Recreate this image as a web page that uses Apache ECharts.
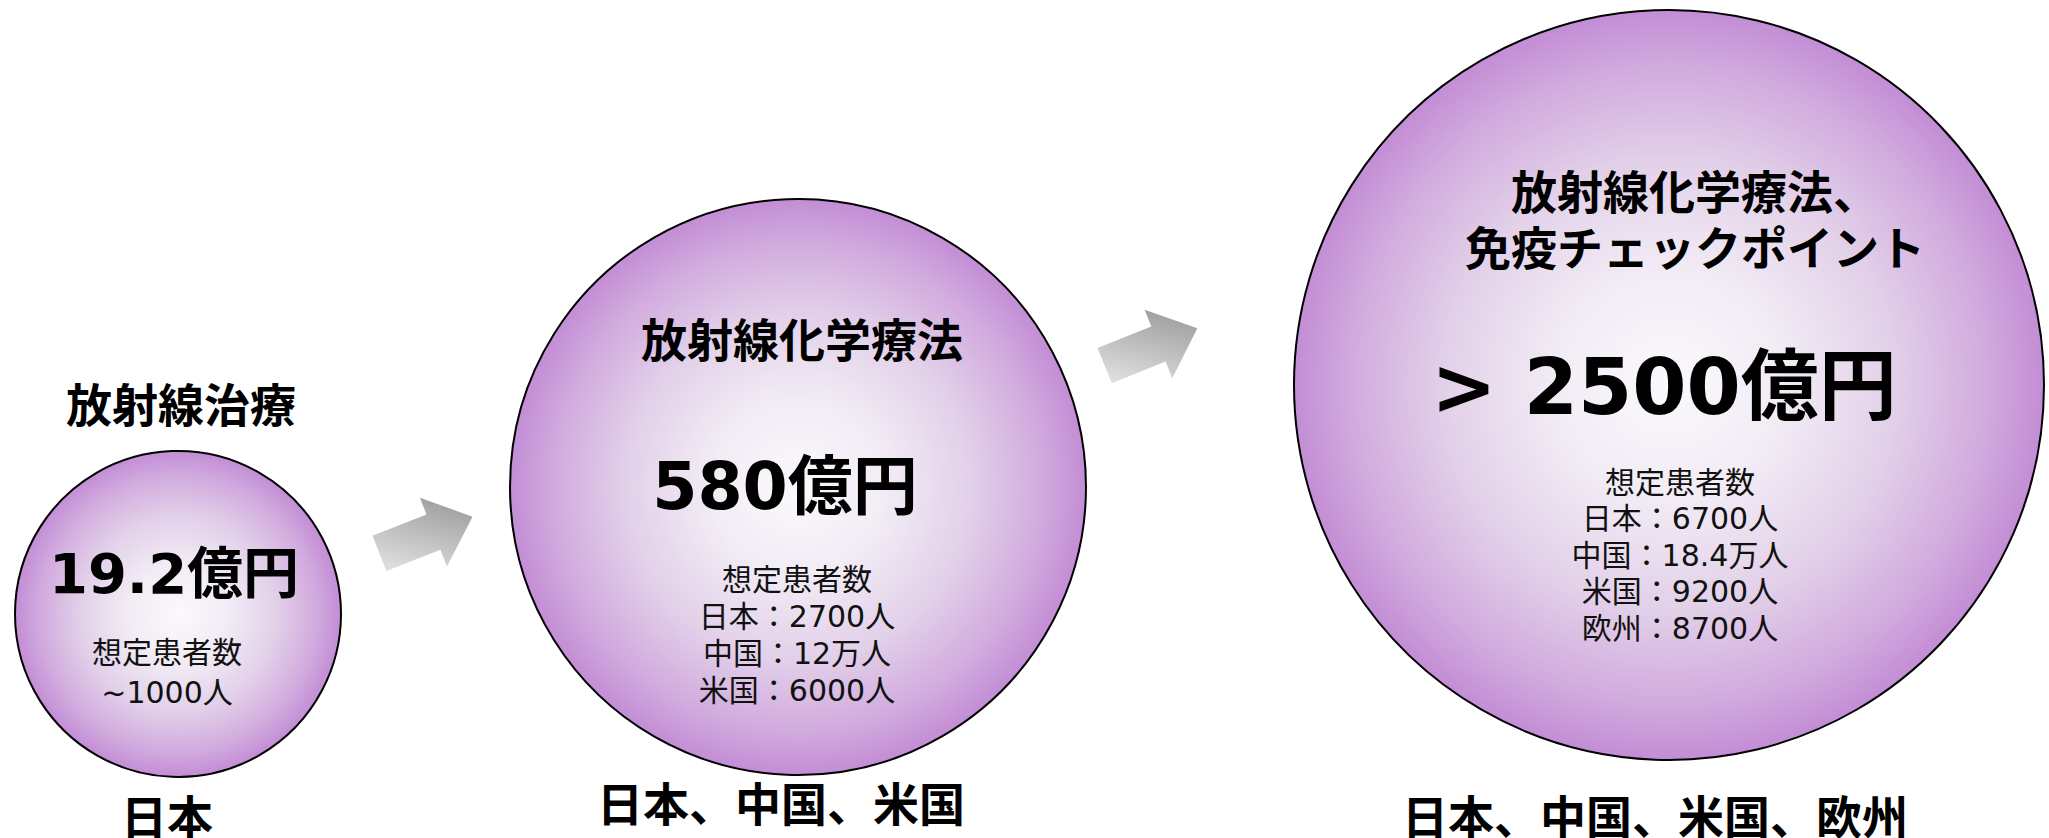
<!DOCTYPE html>
<html><head><meta charset="utf-8">
<script src="https://cdn.jsdelivr.net/npm/echarts@6/dist/echarts.min.js"></script>
<style>html,body{margin:0;padding:0;background:#fff}#c{width:2049px;height:838px}</style>
</head><body><div id="c"></div>
<script>
// ---------------- data ----------------
const stages = ['放射線治療', '放射線化学療法', '放射線化学療法、\n免疫チェックポイント'];
const marketPrefix = ['', '', '> '];
const marketValues = [19.2, 580, 2500];
const marketUnit = '億円';
const patientHeader = '想定患者数';
const patientLines = [
  ['~1000人'],
  ['日本：2700人', '中国：12万人', '米国：6000人'],
  ['日本：6700人', '中国：18.4万人', '米国：9200人', '欧州：8700人']
];
const markets = ['日本', '日本、中国、米国', '日本、中国、米国、欧州'];

// ---------------- layout (pixels) ----------------
const W = 2049, H = 838;
const LAYOUT = {
  circles: [{c: [178, 614], r: 163}, {c: [798, 487], r: 288}, {c: [1669, 385], r: 375}],
  title: [{p: [181, 402], lh: 56}, {p: [802, 337], lh: 56}, {p: [1695, 217], lh: 56}],
  value: [{p: [174, 573], size: 56}, {p: [785, 486], size: 65}, {p: [1664, 387], size: 78}],
  patients: [{p: [167, 672], lh: 40}, {p: [797, 635], lh: 37}, {p: [1680, 555], lh: 36.5}],
  market: [[167, 814], [781, 801], [1655, 814]],
  arrows: [{p: [426, 535], rot: 21.5}, {p: [1151, 347], rot: 22}]
};

const CJK = '"Noto Sans CJK JP", sans-serif';
const MIX = '"DejaVu Sans", "Noto Sans CJK JP", sans-serif';

const circleFill = {
  type: 'radial', x: 0.5, y: 0.5, r: 0.5,
  colorStops: [
    {offset: 0, color: '#fbf9fd'},
    {offset: 0.3, color: '#f2ecf5'},
    {offset: 0.6, color: '#e2d0e9'},
    {offset: 0.85, color: '#d1aade'},
    {offset: 1, color: '#c38dd5'}
  ]
};
const arrowFill = {
  type: 'linear', x: 0, y: 1, x2: 1, y2: 0,
  colorStops: [{offset: 0, color: '#ededed'}, {offset: 1, color: '#8e8e8e'}]
};

const circleData = marketValues.map((v, i) => ({
  name: stages[i],
  value: [LAYOUT.circles[i].c[0], LAYOUT.circles[i].c[1], v],
  symbolSize: LAYOUT.circles[i].r * 2
}));

const arrowData = LAYOUT.arrows.map(a => ({value: a.p, symbolRotate: a.rot}));

function textItem(p, text, style) {
  return {
    value: p,
    label: Object.assign({
      show: true, position: 'inside', formatter: text,
      align: 'center', verticalAlign: 'middle', color: '#000', opacity: 1
    }, style)
  };
}

const textData = [];
stages.forEach((s, i) => {
  textData.push(textItem(LAYOUT.title[i].p, s, {
    fontFamily: CJK, fontWeight: 'bold', fontSize: 46, lineHeight: LAYOUT.title[i].lh
  }));
  textData.push(textItem(LAYOUT.value[i].p, marketPrefix[i] + marketValues[i] + marketUnit, {
    fontFamily: MIX, fontWeight: 'bold', fontSize: LAYOUT.value[i].size, lineHeight: LAYOUT.value[i].size * 1.1
  }));
  textData.push(textItem(LAYOUT.patients[i].p, [patientHeader].concat(patientLines[i]).join('\n'), {
    fontFamily: MIX, fontSize: 30, lineHeight: LAYOUT.patients[i].lh, color: '#111'
  }));
  textData.push(textItem(LAYOUT.market[i], markets[i], {
    fontFamily: CJK, fontWeight: 'bold', fontSize: 46, lineHeight: 44
  }));
});

const chart = echarts.init(document.getElementById('c'), null, {renderer: 'svg', width: W, height: H});
chart.setOption({
  backgroundColor: '#ffffff',
  animation: false,
  grid: {left: 0, right: 0, top: 0, bottom: 0, containLabel: false},
  xAxis: {type: 'value', min: 0, max: W, show: false},
  yAxis: {type: 'value', min: 0, max: H, inverse: true, show: false},
  series: [
    {
      type: 'scatter', silent: true, clip: false, z: 1,
      symbol: 'path://M0,-19 L58,-19 L58,-37 L100,0 L58,37 L58,19 L0,19 Z',
      symbolSize: [100, 74],
      itemStyle: {color: arrowFill, opacity: 1},
      data: arrowData
    },
    {
      type: 'scatter', silent: true, clip: false, z: 2,
      symbol: 'circle',
      itemStyle: {color: circleFill, borderColor: '#000', borderWidth: 2, opacity: 1},
      data: circleData
    },
    {
      type: 'scatter', silent: true, clip: false, z: 3,
      symbol: 'circle', symbolSize: 1,
      itemStyle: {color: 'rgba(0,0,0,0)'},
      data: textData
    }
  ]
});
</script></body></html>
